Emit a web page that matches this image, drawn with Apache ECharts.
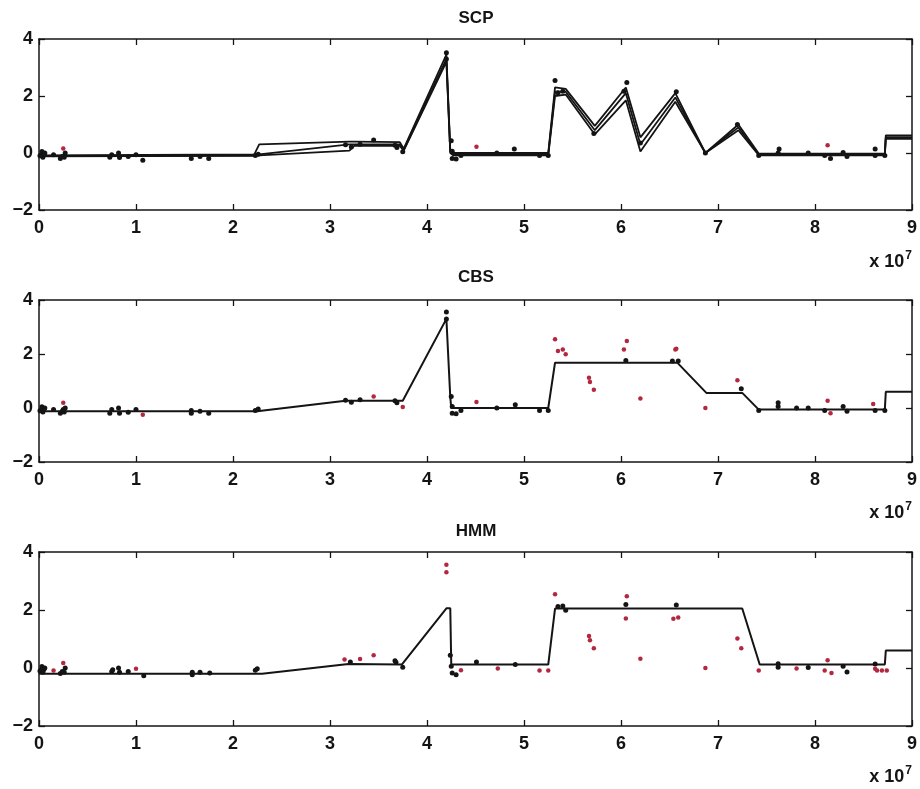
<!DOCTYPE html>
<html>
<head>
<meta charset="utf-8">
<script src="https://cdn.jsdelivr.net/npm/echarts@6/dist/echarts.min.js"></script>
<style>
  html, body { margin: 0; padding: 0; background: #fff; }
  #main { width: 920px; height: 789px; }
</style>
</head>
<body>
<div id="main"></div>
<script>
// x in units of 1e7
const xTicks = [0, 1, 2, 3, 4, 5, 6, 7, 8, 9];
const yTicks = [-2, 0, 2, 4];
const panelTitles = ['SCP', 'CBS', 'HMM'];

// SCP: several nearly parallel segment lines
const scpX  = [0, 2.22, 2.27, 3.2, 3.25, 3.72, 3.76, 4.2, 4.24, 4.27, 5.25, 5.32, 5.43, 5.73, 6.05, 6.2, 6.56, 6.87, 7.21, 7.42, 8.72, 8.73, 9];
const scpY1 = [-0.08, -0.05, 0.30, 0.40, 0.40, 0.38, 0.15, 3.45, 0.10, 0.00, 0.00, 2.30, 2.25, 0.95, 2.30, 0.55, 2.10, 0.00, 1.00, -0.02, -0.02, 0.62, 0.62];
const scpY2 = [-0.10, -0.08, -0.05, 0.30, 0.30, 0.30, 0.10, 3.30, 0.05, -0.05, -0.05, 2.15, 2.15, 0.80, 2.10, 0.30, 1.95, 0.00, 0.90, -0.05, -0.05, 0.56, 0.56];
const scpY3 = [-0.12, -0.10, -0.08, 0.08, 0.25, 0.25, 0.08, 3.20, 0.00, -0.08, -0.08, 2.00, 2.05, 0.65, 1.85, 0.05, 1.80, 0.00, 0.80, -0.08, -0.08, 0.50, 0.50];

const cbsX = [0, 2.25, 3.16, 3.75, 4.2, 4.24, 4.25, 5.25, 5.32, 6.58, 6.88, 7.25, 7.42, 8.72, 8.73, 9];
const cbsY = [-0.12, -0.12, 0.27, 0.27, 3.3, 0.4, 0.0, 0.0, 1.68, 1.68, 0.56, 0.56, -0.06, -0.06, 0.6, 0.6];

const hmmX = [0, 2.3, 3.19, 3.74, 4.2, 4.24, 4.25, 5.25, 5.32, 7.25, 7.43, 8.72, 8.73, 9];
const hmmY = [-0.2, -0.2, 0.14, 0.12, 2.06, 2.06, 0.12, 0.12, 2.05, 2.05, 0.12, 0.12, 0.6, 0.6];

// probes near the fit (black) and away from it (red)
const scpBlack = [
  [0.01, -0.1], [0.03, 0.05], [0.05, -0.05], [0.06, 0.0], [0.04, -0.15], [0.15, -0.06],
  [0.22, -0.19], [0.24, -0.12], [0.27, 0.0], [0.26, -0.15],
  [0.73, -0.15], [0.75, -0.06], [0.82, 0.0], [0.83, -0.16], [0.92, -0.12], [1.0, -0.06], [1.07, -0.25],
  [1.57, -0.19], [1.66, -0.12], [1.75, -0.19], [2.23, -0.09], [2.26, -0.04],
  [3.16, 0.29], [3.22, 0.21], [3.31, 0.31], [3.45, 0.46], [3.67, 0.27], [3.69, 0.19], [3.75, 0.04],
  [4.2, 3.52], [4.2, 3.3], [4.25, 0.43], [4.26, 0.06], [4.26, -0.19], [4.3, -0.21], [4.35, -0.09],
  [4.72, 0.0], [4.9, 0.14], [5.16, -0.09], [5.25, -0.09],
  [5.32, 2.54], [5.35, 2.11], [5.4, 2.17], [5.72, 0.68], [6.03, 2.17], [6.06, 2.47], [6.2, 0.35],
  [6.57, 2.15], [6.87, 0.0], [7.2, 1.0], [7.42, -0.09], [7.63, 0.14], [7.62, 0.0], [7.93, 0.0],
  [8.1, -0.09], [8.16, -0.19], [8.29, 0.02], [8.33, -0.12], [8.62, 0.14], [8.62, -0.09], [8.72, -0.09]
];
const scpRed = [[0.25, 0.16], [4.51, 0.22], [8.13, 0.27]];

const cbsBlack = [
  [0.01, -0.1], [0.03, 0.05], [0.05, -0.05], [0.06, 0.0], [0.04, -0.15], [0.15, -0.06],
  [0.22, -0.19], [0.24, -0.12], [0.25, -0.06], [0.27, 0.0], [0.26, -0.15],
  [0.73, -0.19], [0.75, -0.06], [0.82, 0.0], [0.83, -0.19], [0.92, -0.16], [1.0, -0.06],
  [1.57, -0.19], [1.57, -0.09], [1.66, -0.12], [1.75, -0.19], [2.23, -0.09], [2.26, -0.04],
  [3.16, 0.29], [3.22, 0.21], [3.31, 0.31], [3.67, 0.27], [3.69, 0.19],
  [4.2, 3.56], [4.2, 3.3], [4.25, 0.43], [4.26, 0.06], [4.26, -0.19], [4.3, -0.21], [4.35, -0.09],
  [4.72, 0.0], [4.91, 0.12], [5.16, -0.09], [5.25, -0.09],
  [6.05, 1.76], [6.53, 1.74], [6.59, 1.74], [7.24, 0.71], [7.42, -0.09], [7.62, 0.19], [7.62, 0.06],
  [7.81, 0.0], [7.93, 0.0], [8.1, -0.09], [8.29, 0.06], [8.33, -0.12], [8.62, -0.09], [8.72, -0.09]
];
const cbsRed = [
  [0.25, 0.19], [1.07, -0.25], [3.45, 0.43], [3.75, 0.04], [4.51, 0.22],
  [5.32, 2.55], [5.35, 2.11], [5.4, 2.17], [5.43, 1.99], [5.67, 1.12], [5.68, 0.96], [5.72, 0.68],
  [6.03, 2.17], [6.06, 2.48], [6.2, 0.35], [6.56, 2.17], [6.57, 2.19], [6.87, 0.0], [7.2, 1.03],
  [8.13, 0.27], [8.16, -0.19], [8.6, 0.15]
];

const hmmBlack = [
  [0.01, -0.1], [0.03, 0.05], [0.05, -0.05], [0.06, 0.0], [0.04, -0.15],
  [0.22, -0.19], [0.24, -0.12], [0.27, 0.0], [0.26, -0.15],
  [0.75, -0.12], [0.76, -0.06], [0.82, 0.0], [0.83, -0.15], [0.92, -0.12], [1.08, -0.27],
  [1.58, -0.15], [1.58, -0.23], [1.66, -0.15], [1.76, -0.17], [2.23, -0.08], [2.25, -0.03],
  [3.21, 0.21], [3.67, 0.25], [3.68, 0.2], [3.75, 0.03],
  [4.24, 0.44], [4.25, 0.06], [4.26, -0.17], [4.3, -0.23], [4.51, 0.21], [4.91, 0.12],
  [5.35, 2.12], [5.4, 2.14], [5.43, 1.99], [6.05, 2.19], [6.57, 2.17],
  [7.62, 0.15], [7.62, 0.03], [7.93, 0.02], [8.29, 0.06], [8.33, -0.14], [8.62, 0.14]
];
const hmmRed = [
  [0.15, -0.09], [0.25, 0.17], [1.0, -0.03], [3.15, 0.29], [3.31, 0.31], [3.45, 0.44],
  [4.2, 3.56], [4.2, 3.3], [4.35, -0.08], [4.73, -0.02], [5.16, -0.09], [5.25, -0.09],
  [5.32, 2.54], [5.67, 1.1], [5.68, 0.96], [5.72, 0.68], [6.06, 2.47], [6.05, 1.71], [6.2, 0.32],
  [6.54, 1.7], [6.59, 1.74], [6.87, 0.0], [7.2, 1.02], [7.24, 0.68], [7.42, -0.09], [7.81, -0.02],
  [8.1, -0.09], [8.13, 0.27], [8.17, -0.17], [8.62, -0.03], [8.64, -0.09], [8.69, -0.09], [8.74, -0.09]
];

const zip = (xs, ys) => xs.map((x, i) => [x, ys[i]]);

const FONT = 'Liberation Sans';
const INK = '#141414';
const RED = '#b3283e';

const grids = [
  { left: 39, top: 39, width: 875, height: 171 },
  { left: 39, top: 300, width: 875, height: 162 },
  { left: 39, top: 552, width: 875, height: 174 }
];
const titleMids = [18, 277, 531];
const expTops = [250, 501, 765];

const xAxes = [];
const yAxes = [];
grids.forEach((g, i) => {
  const common = {
    gridIndex: i,
    type: 'value',
    splitLine: { show: false },
    axisLine: { show: true, onZero: false, lineStyle: { color: INK, width: 1.5 } },
    axisTick: { show: true, inside: true, length: 6, lineStyle: { color: INK, width: 1.3 } }
  };
  xAxes.push({
    ...common, position: 'bottom', min: 0, max: 9, interval: 1,
    axisLabel: { show: true, margin: 9, color: INK, fontSize: 18, fontWeight: 'bold', fontFamily: FONT,
      formatter: v => (xTicks.includes(v) ? String(v) : '') }
  });
  xAxes.push({ ...common, position: 'top', min: 0, max: 9, interval: 1, axisLabel: { show: false } });
  yAxes.push({
    ...common, position: 'left', min: -2, max: 4, interval: 2,
    axisLabel: { show: true, margin: 6, color: INK, fontSize: 18, fontWeight: 'bold', fontFamily: FONT,
      formatter: v => (yTicks.includes(v) ? String(v).replace('-', '\u2212') : '') }
  });
  yAxes.push({ ...common, position: 'right', min: -2, max: 4, interval: 2, axisLabel: { show: false } });
});

const lineSeries = (i, data, w) => ({
  type: 'line', xAxisIndex: i * 2, yAxisIndex: i * 2, data,
  showSymbol: false, silent: true, animation: false,
  lineStyle: { color: INK, width: w }
});
const dotSeries = (i, data, color, size) => ({
  type: 'scatter', xAxisIndex: i * 2, yAxisIndex: i * 2, data,
  symbolSize: size, silent: true, animation: false,
  itemStyle: { color, opacity: 1 }
});

const series = [
  lineSeries(0, zip(scpX, scpY1), 1.8),
  lineSeries(0, zip(scpX, scpY2), 1.8),
  lineSeries(0, zip(scpX, scpY3), 1.8),
  dotSeries(0, scpBlack, INK, 5),
  dotSeries(0, scpRed, RED, 4.5),
  lineSeries(1, zip(cbsX, cbsY), 2),
  dotSeries(1, cbsBlack, INK, 5),
  dotSeries(1, cbsRed, RED, 4.5),
  lineSeries(2, zip(hmmX, hmmY), 2),
  dotSeries(2, hmmBlack, INK, 5),
  dotSeries(2, hmmRed, RED, 4.5)
];

const titleGraphics = panelTitles.map((t, i) => ({
  type: 'text', x: 476, y: titleMids[i],
  style: { text: t, fontSize: 17, fontWeight: 'bold', fontFamily: FONT, fill: INK, align: 'center', verticalAlign: 'middle' }
}));
const expGraphics = expTops.map(t => ({
  type: 'text', right: 8, top: t,
  style: {
    text: '{b|x 10}{s|7}',
    rich: {
      b: { fontSize: 18, fontWeight: 'bold', fontFamily: FONT, fill: INK, verticalAlign: 'bottom' },
      s: { fontSize: 12, fontWeight: 'bold', fontFamily: FONT, fill: INK, verticalAlign: 'top', padding: [0, 0, 9, 1] }
    }
  }
}));

const chart = echarts.init(document.getElementById('main'), null, { renderer: 'canvas' });
chart.setOption({
  backgroundColor: '#fff',
  animation: false,
  grid: grids,
  xAxis: xAxes,
  yAxis: yAxes,
  series,
  graphic: titleGraphics.concat(expGraphics)
});
</script>
</body>
</html>
